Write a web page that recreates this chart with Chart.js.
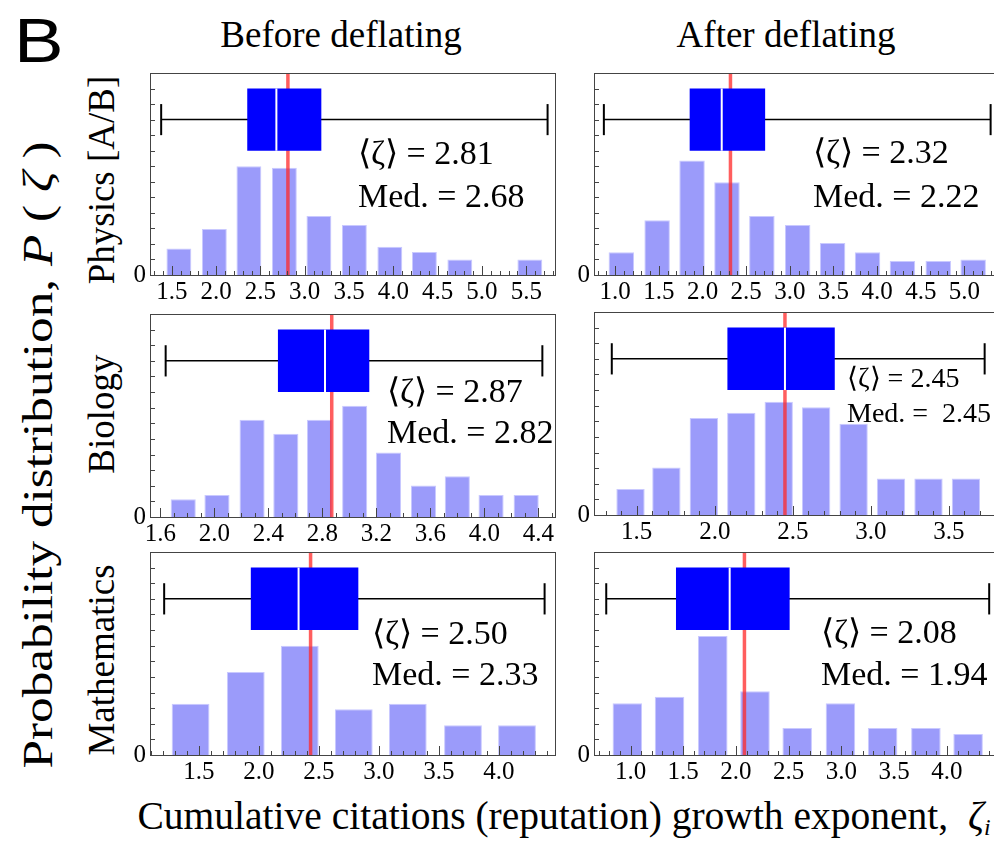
<!DOCTYPE html>
<html>
<head>
<meta charset="utf-8">
<title>Reputation growth exponent</title>
<script src="https://cdn.jsdelivr.net/npm/chart.js@4.4.1/dist/chart.umd.min.js"></script>
<style>
  html, body { margin: 0; padding: 0; background: #fff; }
  body { width: 994px; height: 845px; overflow: hidden; position: relative;
         font-family: "Liberation Serif", "Times New Roman", serif; }
  canvas { position: absolute; }
  .lbl { position: absolute; white-space: nowrap; line-height: 1; color: #000; }
  .rot { transform: translate(-50%, -50%) rotate(-90deg); }
  .ctr { transform: translateX(-50%); }
  .sub { font-size: 0.6em; vertical-align: -0.25em; line-height: 0; }
</style>
</head>
<body>
<div class="lbl" style="left:14px;top:4px;font:63px 'Liberation Sans',sans-serif;transform:scaleX(1.18);transform-origin:0 0">B</div>
<div class="lbl ctr" id="col0" style="left:341px;top:16px;font-size:37px"></div>
<div class="lbl ctr" id="col1" style="left:786px;top:16px;font-size:37px"></div>
<div class="lbl rot" id="row0" style="left:101px;top:180px;font-size:37px"></div>
<div class="lbl rot" id="row1" style="left:101px;top:414px;font-size:37px"></div>
<div class="lbl rot" id="row2" style="left:101px;top:660px;font-size:37px"></div>
<div class="lbl" style="left:38px;top:455px;font-size:42px;transform:translate(-50%,-50%) rotate(-90deg) scaleX(1.22)">Probability distribution, <i>P</i> ( <i>ζ</i> )</div>
<div class="lbl ctr" style="left:564px;top:797px;font-size:39.5px">Cumulative citations (reputation) growth exponent,&nbsp; <i>ζ<span class="sub">i</span></i></div>
<canvas id="c0"></canvas>
<canvas id="c1"></canvas>
<canvas id="c2"></canvas>
<canvas id="c3"></canvas>
<canvas id="c4"></canvas>
<canvas id="c5"></canvas>
<script>
// ---- data ----
const rowNames = ['Physics [A/B]', 'Biology', 'Mathematics'];
const colNames = ['Before deflating', 'After deflating'];

// bin centres (zeta) and bar heights (P(zeta), arbitrary units)
const physBeforeBins = [1.58, 1.98, 2.37, 2.77, 3.16, 3.56, 3.96, 4.35, 4.75, 5.14, 5.54];
const physBeforeP    = [1.71, 2.96, 7.0, 6.9, 3.79, 3.21, 1.82, 1.48, 1.0, 0, 1.0];
const physAfterBins  = [1.07, 1.48, 1.88, 2.28, 2.68, 3.09, 3.49, 3.89, 4.29, 4.70, 5.10];
const physAfterP     = [1.46, 3.53, 7.37, 5.97, 3.79, 3.21, 2.06, 1.46, 0.9, 0.9, 1.0];
const bioBeforeBins  = [1.77, 2.02, 2.28, 2.53, 2.78, 3.04, 3.29, 3.55, 3.80, 4.05, 4.31];
const bioBeforeP     = [1.13, 1.41, 6.23, 5.33, 6.23, 7.13, 4.13, 2.01, 2.61, 1.41, 1.41];
const bioAfterBins   = [1.46, 1.69, 1.93, 2.17, 2.41, 2.65, 2.89, 3.13, 3.37, 3.61];
const bioAfterP      = [1.67, 3.04, 6.21, 6.55, 7.26, 6.9, 5.85, 2.33, 2.33, 2.33];
const mathBeforeBins = [1.43, 1.89, 2.34, 2.79, 3.24, 3.70, 4.15];
const mathBeforeP    = [3.28, 5.31, 7.0, 2.93, 3.28, 1.91, 1.91];
const mathAfterBins  = [0.97, 1.37, 1.78, 2.18, 2.58, 2.99, 3.39, 3.80, 4.20];
const mathAfterP     = [3.32, 3.73, 7.62, 4.09, 1.73, 3.32, 1.73, 1.73, 1.35];

// box plots: [min, Q1, median, Q3, max]
const physBeforeBox = [1.38, 2.35, 2.68, 3.19, 5.74];
const physAfterBox  = [0.87, 1.85, 2.22, 2.72, 5.30];
const bioBeforeBox  = [1.64, 2.47, 2.82, 3.15, 4.43];
const bioAfterBox   = [1.34, 2.08, 2.45, 2.77, 3.73];
const mathBeforeBox = [1.21, 1.93, 2.33, 2.83, 4.38];
const mathAfterBox  = [0.77, 1.43, 1.94, 2.51, 4.40];

// red line (mean) as drawn, and the printed values
const meanLines  = [2.81, 2.32, 2.87, 2.45, 2.43, 2.08];
const meanText   = ['2.81', '2.32', '2.87', '2.45', '2.50', '2.08'];
const medianText = ['2.68', '2.22', '2.82', ' 2.45', '2.33', '1.94'];

// x tick labels
const physBeforeTicks = [1.5, 2.0, 2.5, 3.0, 3.5, 4.0, 4.5, 5.0, 5.5];
const physAfterTicks  = [1.0, 1.5, 2.0, 2.5, 3.0, 3.5, 4.0, 4.5, 5.0];
const bioBeforeTicks  = [1.6, 2.0, 2.4, 2.8, 3.2, 3.6, 4.0, 4.4];
const bioAfterTicks   = [1.5, 2.0, 2.5, 3.0, 3.5];
const mathBeforeTicks = [1.5, 2.0, 2.5, 3.0, 3.5, 4.0];
const mathAfterTicks  = [1.0, 1.5, 2.0, 2.5, 3.0, 3.5, 4.0];

// ---- layout ----
const YMAX = 13;            // box sits at 8..12, whisker at 10
const PAD = { left: 24, top: 2, right: 4 };
const XAXIS_H = 34;

const panels = [
  { bins: physBeforeBins, p: physBeforeP, box: physBeforeBox, ticks: physBeforeTicks,
    xr: [1.254, 5.835], rect: [150, 73, 556, 275], bar: 0.72, txt: [358, 164, 207], fs: 34 },
  { bins: physAfterBins, p: physAfterP, box: physAfterBox, ticks: physAfterTicks,
    xr: [0.757, 5.396], rect: [594, 73, 999, 275], bar: 0.73, txt: [813, 163, 207], fs: 34 },
  { bins: bioBeforeBins, p: bioBeforeP, box: bioBeforeBox, ticks: bioBeforeTicks,
    xr: [1.524, 4.531], rect: [150, 314, 556, 517], bar: 0.745, txt: [387, 402, 443], fs: 34 },
  { bins: bioAfterBins, p: bioAfterP, box: bioAfterBox, ticks: bioAfterTicks,
    xr: [1.226, 3.822], rect: [594, 312, 999, 515], bar: 0.79, txt: [847, 387, 422], fs: 28 },
  { bins: mathBeforeBins, p: mathBeforeP, box: mathBeforeBox, ticks: mathBeforeTicks,
    xr: [1.092, 4.475], rect: [150, 552, 556, 755], bar: 0.70, txt: [372, 644, 685], fs: 34 },
  { bins: mathAfterBins, p: mathAfterP, box: mathAfterBox, ticks: mathAfterTicks,
    xr: [0.654, 4.493], rect: [594, 552, 999, 755], bar: 0.70, txt: [821, 643, 685], fs: 34 }
];

document.getElementById('col0').textContent = colNames[0];
document.getElementById('col1').textContent = colNames[1];
rowNames.forEach((n, i) => { document.getElementById('row' + i).textContent = n; });

// frame with inward ticks + the two annotation lines
const framePlugin = {
  id: 'frame',
  afterDatasetsDraw(chart, args, opts) {
    const { ctx, chartArea: a, scales: { x, y } } = chart;
    ctx.save();
    ctx.strokeStyle = '#444';
    ctx.lineWidth = 1;
    ctx.strokeRect(a.left + 0.5, a.top + 0.5, a.right - a.left - 1, a.bottom - a.top);
    ctx.beginPath();
    for (let v = Math.ceil(x.min * 10); v <= x.max * 10; v++) {
      const px = Math.round(x.getPixelForValue(v / 10)) + 0.5;
      const major = opts.ticks.some(t => Math.abs(t * 10 - v) < 1e-6);
      ctx.moveTo(px, a.bottom);
      ctx.lineTo(px, a.bottom - (major ? 9 : 4));
    }
    for (let v = 1; v < YMAX; v++) {
      const py = Math.round(y.getPixelForValue(v)) + 0.5;
      ctx.moveTo(a.left, py);
      ctx.lineTo(a.left + 5, py);
    }
    ctx.stroke();

    ctx.fillStyle = '#000';
    ctx.textBaseline = 'alphabetic';
    ctx.textAlign = 'left';
    ctx.font = opts.fs + 'px "Liberation Serif", serif';
    ctx.fillText('\u27E8\u03B6\u27E9 = ' + opts.mean, opts.tx, opts.ty1);
    ctx.fillText('Med. = ' + opts.med, opts.tx, opts.ty2);
    ctx.restore();
  }
};

const tickFont = { family: 'Liberation Serif', size: 25 };

panels.forEach((pn, i) => {
  const [L, T, R, B] = pn.rect;
  const cv = document.getElementById('c' + i);
  const w = R - L + PAD.left + PAD.right;
  const h = B - T + PAD.top + XAXIS_H;
  const left = L - PAD.left, top = T - PAD.top;
  cv.width = w; cv.height = h;
  cv.style.left = left + 'px'; cv.style.top = top + 'px';
  cv.style.width = w + 'px'; cv.style.height = h + 'px';

  const b = pn.box, m = meanLines[i];
  const line = (pts, color, width, order) => ({
    type: 'line', data: pts, borderColor: color, borderWidth: width,
    pointRadius: 0, borderCapStyle: 'butt', fill: false, order
  });

  new Chart(cv, {
    type: 'bar',
    data: {
      datasets: [
        line([{ x: b[2], y: 8 }, { x: b[2], y: 12 }], '#ffffff', 2, 1),
        { type: 'line', data: [{ x: b[1], y: 12 }, { x: b[3], y: 12 }], borderWidth: 0,
          pointRadius: 0, fill: { value: 8 }, backgroundColor: '#0000ff', order: 2 },
        line([{ x: m, y: 0 }, { x: m, y: YMAX }], 'rgba(255,40,40,0.75)', 3.5, 3),
        line([{ x: b[0], y: 10 }, { x: b[4], y: 10 }], '#000', 1.5, 4),
        line([{ x: b[0], y: 9 }, { x: b[0], y: 11 }], '#000', 2, 4),
        line([{ x: b[4], y: 9 }, { x: b[4], y: 11 }], '#000', 2, 4),
        { type: 'bar', data: pn.bins.map((x, k) => ({ x, y: pn.p[k] })),
          backgroundColor: '#9b9bfa', borderColor: '#c9c9ff', borderWidth: 1,
          barPercentage: pn.bar, categoryPercentage: 1, order: 9 }
      ]
    },
    options: {
      responsive: false, animation: false, devicePixelRatio: 1, events: [],
      layout: { padding: { left: 0, top: PAD.top, right: PAD.right, bottom: 0 } },
      plugins: {
        legend: { display: false }, tooltip: { enabled: false },
        frame: { ticks: pn.ticks, fs: pn.fs, mean: meanText[i], med: medianText[i],
                 tx: pn.txt[0] - left, ty1: pn.txt[1] - top, ty2: pn.txt[2] - top }
      },
      scales: {
        x: {
          type: 'linear', min: pn.xr[0], max: pn.xr[1], offset: false,
          grid: { display: false, drawTicks: false, offset: false }, border: { display: false },
          afterBuildTicks: s => { s.ticks = pn.ticks.map(v => ({ value: v })); },
          afterFit: s => { s.height = XAXIS_H; s.paddingLeft = 0; s.paddingRight = 0; },
          ticks: { autoSkip: false, maxRotation: 0, padding: 2, color: '#000', font: tickFont,
                   callback: v => Number(v).toFixed(1) }
        },
        y: {
          min: 0, max: YMAX,
          grid: { display: false, drawTicks: false }, border: { display: false },
          afterBuildTicks: s => { s.ticks = [{ value: 0 }]; },
          afterFit: s => { s.width = PAD.left; s.paddingTop = 0; s.paddingBottom = 0; },
          ticks: { padding: 4, color: '#000', font: tickFont, callback: v => String(v) }
        }
      }
    },
    plugins: [framePlugin]
  });
});
</script>
</body>
</html>
